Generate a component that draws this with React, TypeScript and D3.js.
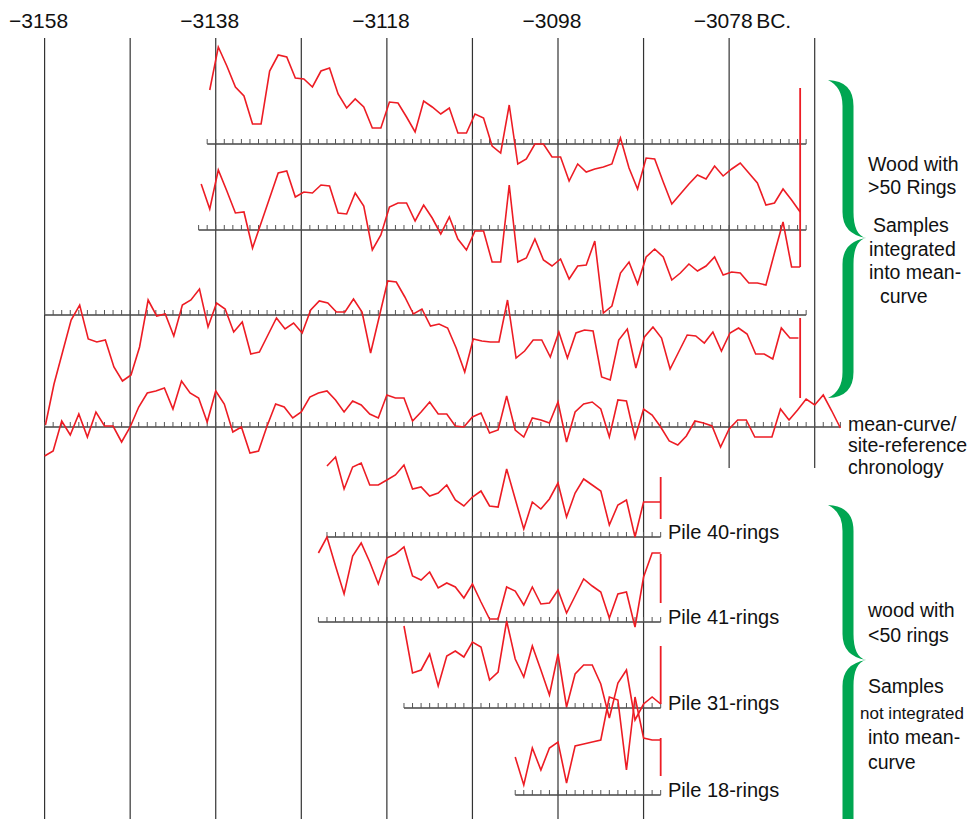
import * as d3 from 'd3'

// ring-width indices (0 = baseline, positive = up)
const A_START = -3139
const A_VALUES = [54, 97, 78, 57, 48, 20, 20, 73, 89, 87, 66, 65, 57, 73, 76, 50, 36, 45, 37, 16, 16, 42, 41, 27, 12, 43, 37, 30, 36, 11, 11, 30, 26, -2, -9, 39, -20, -15, 0, 0, -13, -13, -37, -20, -28, -25, -23, -20, 6, -24, -45, -14, -15, -38, -60, -50, -40, -31, -35, -22, -32, -25, -19, -29, -39, -61, -59, -45, -56, -68]

const B_START = -3140
const B_VALUES = [46, 21, 60, 39, 17, 18, -18, 7, 32, 57, 59, 33, 38, 37, 45, 44, 17, 16, 37, 24, -20, -5, 23, 27, 27, 9, 25, 12, -4, 13, -9, -20, -1, -1, -32, -32, 45, -32, -28, -9, -30, -36, -29, -49, -36, -35, -11, -83, -76, -43, -32, -54, -27, -19, -27, -50, -43, -34, -41, -36, -27, -45, -42, -43, -53, -53, -55, -23, 8, -37, -37]

const C_START = -3158
const C_VALUES = [-110, -69, -37, -5, 10, -24, -27, -25, -52, -66, -60, -32, 15, -1, 1, -21, 10, 15, 26, -12, 12, 6, -17, -7, -39, -37, -20, -3, -14, -8, -18, 5, 14, 12, 3, 3, 16, 3, -38, -2, 34, 33, 18, 1, 6, -11, -9, -13, -33, -57, -24, -26, -27, -27, 15, -43, -36, -25, -25, -42, -17, -43, -18, -15, -16, -62, -65, -25, -14, -53, -22, -12, -23, -54, -37, -20, -21, -28, -17, -36, -18, -13, -19, -39, -39, -44, -13, -23, -23]

const MEAN_START = -3158
const MEAN_VALUES = [-29, -24, 6, -8, 13, -10, 15, 1, 1, -15, 0, 20, 34, 36, 39, 18, 46, 34, 29, 5, 36, 23, -5, 0, -26, -24, 1, 23, 20, 9, 15, 30, 34, 36, 27, 15, 26, 22, 13, 9, 32, 29, 29, 6, 15, 25, 13, 13, 1, 0, 10, 14, -6, -3, 31, -3, -10, 9, 7, 4, 25, -15, 15, 23, 25, 18, -10, 27, 26, -11, 18, 12, 0, -14, -18, -9, 6, 4, 1, -20, -2, 7, 7, -10, -10, -10, 18, 7, 17, 28, 22, 32, 16, -1]

const PILE40_START = -3125
const PILE40_VALUES = [71, 80, 48, 70, 74, 52, 52, 57, 62, 72, 48, 50, 41, 44, 52, 37, 31, 40, 46, 31, 30, 68, 38, 8, 35, 28, 38, 54, 20, 44, 58, 52, 46, 12, 32, 37, 0, 35, 35, 35]

const PILE41_START = -3126
const PILE41_VALUES = [69, 85, 56, 28, 66, 79, 60, 38, 64, 68, 75, 46, 42, 50, 34, 39, 35, 24, 38, 20, 3, 3, 35, 31, 17, 35, 18, 19, 32, 9, 26, 43, 36, 30, 4, 28, 30, -5, 45, 69, 69]

const PILE31_START = -3116
const PILE31_VALUES = [82, 35, 38, 54, 22, 52, 57, 51, 66, 61, 28, 36, 87, 49, 31, 62, 38, 13, 54, 1, 34, 43, 43, 24, -10, 25, 38, -12, 4, 11, 4]

const PILE18_START = -3103
const PILE18_VALUES = [38, 10, 47, 25, 47, 53, 12, 49, 51, 53, 55, 98, 95, 25, 98, 57, 55, 55]

const AXIS_YEARS = [-3158, -3138, -3118, -3098, -3078]
const GRID_YEARS = [-3158, -3148, -3138, -3128, -3118, -3108, -3098, -3088, -3078, -3068]
const SHORT_GRID_YEARS = [-3078, -3068]

// end markers: [series index, year, top value, bottom value]
const END_BARS: [number, number, number, number][] = [
  [0, -3070, 56, -123],
  [2, -3070, -3, -83],
  [4, -3086, 60, 18],
  [5, -3086, 68, 19],
  [6, -3086, 62, 4],
  [7, -3086, 57, 19],
]

const PILE_LABELS = ['Pile 40-rings', 'Pile 41-rings', 'Pile 31-rings', 'Pile 18-rings']

const RED = '#ed1c24'
const GREEN = '#00a651'
const FONT = "'Liberation Sans', Arial, sans-serif"

const WIDTH = 978
const HEIGHT = 819

const x = d3.scaleLinear().domain([-3158, -3068]).range([44.6, 814.7])

const SERIES = [
  { start: A_START, values: A_VALUES, base: 144, offset: 0.3, from: -3139, to: -3069 },
  { start: B_START, values: B_VALUES, base: 230, offset: 0.3, from: -3140, to: -3069 },
  { start: C_START, values: C_VALUES, base: 315, offset: 0.1, from: -3158, to: -3069 },
  { start: MEAN_START, values: MEAN_VALUES, base: 427, offset: 0, from: -3158, to: -3065 },
  { start: PILE40_START, values: PILE40_VALUES, base: 537, offset: 0, from: -3125, to: -3086 },
  { start: PILE41_START, values: PILE41_VALUES, base: 622, offset: 0, from: -3126, to: -3086 },
  { start: PILE31_START, values: PILE31_VALUES, base: 708, offset: 0, from: -3116, to: -3086 },
  { start: PILE18_START, values: PILE18_VALUES, base: 795, offset: 0, from: -3103, to: -3086 },
]

// filled curly brace "}" with tapered ends and a pointed middle
function bracePath(x0: number, xm: number, tip: number, top: number, mid: number, bottom: number) {
  const h = 5.5
  const p = d3.path()
  p.moveTo(x0, top)
  p.quadraticCurveTo(xm + h, top + 1, xm + h, top + 26)
  p.lineTo(xm + h, mid - 26)
  p.quadraticCurveTo(xm + h, mid - 3, tip, mid)
  p.quadraticCurveTo(xm + h, mid + 3, xm + h, mid + 26)
  p.lineTo(xm + h, bottom - 26)
  p.quadraticCurveTo(xm + h, bottom - 1, x0, bottom)
  p.quadraticCurveTo(xm - h, bottom - 7, xm - h, bottom - 26)
  p.lineTo(xm - h, mid + 26)
  p.quadraticCurveTo(xm - h, mid + 4, tip, mid)
  p.quadraticCurveTo(xm - h, mid - 4, xm - h, mid - 26)
  p.lineTo(xm - h, top + 26)
  p.quadraticCurveTo(xm - h, top + 7, x0, top)
  p.closePath()
  return p.toString()
}

function App() {
  return (
    <div style={{ position: 'absolute', left: 0, top: 0 }}>
      <svg width={WIDTH} height={HEIGHT} style={{ display: 'block', fontFamily: FONT }}>
        <rect width={WIDTH} height={HEIGHT} fill="#fff" />

        {GRID_YEARS.map((yr) => (
          <line
            key={yr}
            x1={x(yr)}
            x2={x(yr)}
            y1={38}
            y2={SHORT_GRID_YEARS.includes(yr) ? 468 : HEIGHT}
            stroke="#333"
            strokeWidth={1.2}
          />
        ))}

        {AXIS_YEARS.map((yr) => (
          <text key={yr} x={x(yr) - 6} y={28} fontSize={21} textAnchor="middle" fill="#111">
            {'\u2212' + String(-yr)}
          </text>
        ))}
        <text x={x(-3078) + 27} y={28} fontSize={21} fill="#111">
          BC.
        </text>

        {SERIES.map((s, si) => {
          const y = d3.scaleLinear().domain([0, 100]).range([s.base, s.base - 100])
          const ticks = d3.range(s.from, s.to + 1)
          const line = d3
            .line<number>()
            .x((_, i) => x(s.start + i + s.offset))
            .y((v) => y(v))
          return (
            <g key={si}>
              <line x1={x(s.from)} x2={x(s.to)} y1={y(0)} y2={y(0)} stroke="#444" strokeWidth={1.3} />
              {ticks.map((t) => (
                <line key={t} x1={x(t)} x2={x(t)} y1={y(0)} y2={y(0) - 5} stroke="#555" strokeWidth={1} />
              ))}
              <path d={line(s.values) ?? ''} fill="none" stroke={RED} strokeWidth={1.6} />
            </g>
          )
        })}

        {END_BARS.map(([si, yr, top, bottom], i) => {
          const s = SERIES[si]
          const y = d3.scaleLinear().domain([0, 100]).range([s.base, s.base - 100])
          const bx = x(yr + (si < 3 ? 0.3 : 0))
          return <line key={i} x1={bx} x2={bx} y1={y(top)} y2={y(bottom)} stroke={RED} strokeWidth={1.8} />
        })}

        {PILE_LABELS.map((label, i) => (
          <text key={label} x={668} y={SERIES[4 + i].base + 2} fontSize={20} fill="#111">
            {label}
          </text>
        ))}

        <path d={bracePath(828, 848, 866, 80, 238, 398)} fill={GREEN} />
        <path d={bracePath(828, 848, 866, 505, 660, 845)} fill={GREEN} />

        <g fontSize={19.5} fill="#111">
          <text x={868} y={171}>Wood with</text>
          <text x={868} y={194}>&gt;50 Rings</text>
          <text x={873} y={232}>Samples</text>
          <text x={869} y={256}>integrated</text>
          <text x={869} y={279}>into mean-</text>
          <text x={880} y={303}>curve</text>

          <text x={848} y={431}>mean-curve/</text>
          <text x={848} y={452}>site-reference</text>
          <text x={848} y={474}>chronology</text>

          <text x={868} y={617}>wood with</text>
          <text x={868} y={642}>&lt;50 rings</text>
          <text x={868} y={693}>Samples</text>
          <text x={860} y={719} fontSize={17}>not integrated</text>
          <text x={868} y={744}>into mean-</text>
          <text x={868} y={769}>curve</text>
        </g>
      </svg>
    </div>
  )
}

export default App
